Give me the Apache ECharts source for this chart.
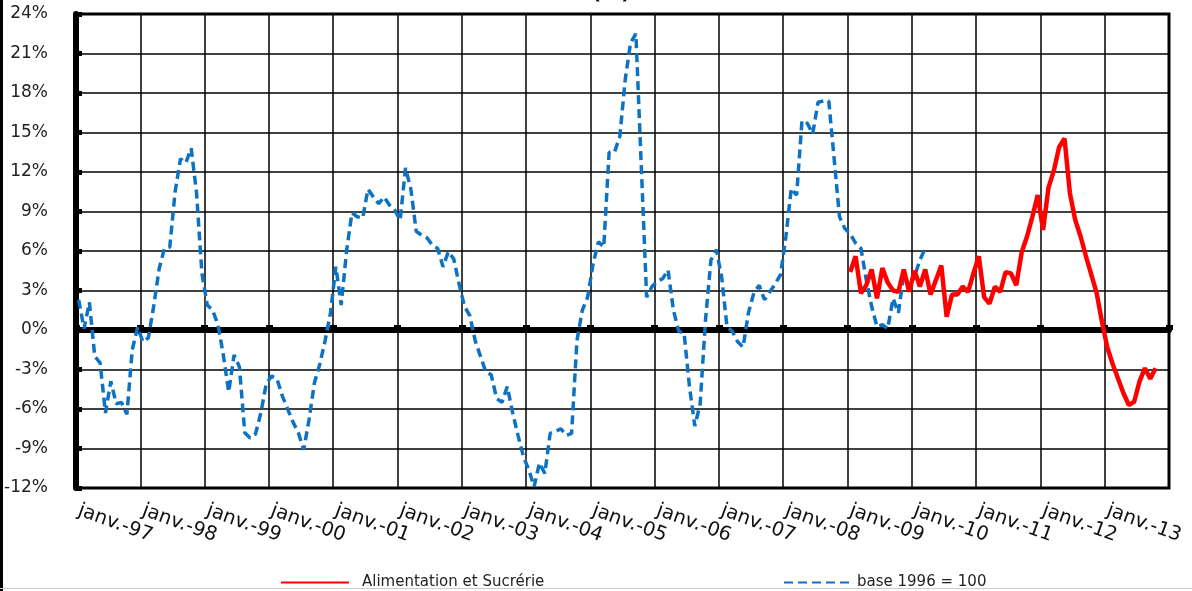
<!DOCTYPE html>
<html>
<head>
<meta charset="utf-8">
<script src="https://cdn.jsdelivr.net/npm/echarts@6/dist/echarts.min.js"></script>
<style>
html,body{margin:0;padding:0;background:#fff;}
#chart{width:1192px;height:591px;}
</style>
</head>
<body>
<div id="chart"></div>
<script>
// ---- data ----
const years = [1997,1998,1999,2000,2001,2002,2003,2004,2005,2006,2007,2008,2009,2010,2011,2012,2013];
const monthNames = ['janv.','févr.','mars','avr.','mai','juin','juil.','août','sept.','oct.','nov.','déc.'];
const yTicks = [-12,-9,-6,-3,0,3,6,9,12,15,18,21,24];

// "base 1996 = 100" : monthly from janv.-97
const baseStart = 0;
const baseValues = [
 2.3, 0.1, 2.1, -2.0, -2.5, -6.3, -3.9, -5.6, -5.5, -6.4, -1.5, 0.2,
 -0.9, -0.6, 1.8, 4.6, 6.2, 6.3, 10.5, 13.0, 12.7, 13.8, 10.4, 4.3,
 1.9, 1.5, 0.4, -1.9, -4.7, -1.9, -2.8, -7.8, -8.2, -7.9, -6.3, -4.1,
 -3.5, -3.7, -5.0, -6.0, -7.0, -7.8, -9.1, -6.8, -4.0, -2.6, -0.8, 1.3,
 4.8, 1.9, 6.0, 8.9, 8.6, 8.5, 10.7, 10.1, 9.6, 10.1, 9.5, 9.1,
 8.35, 12.3, 10.7, 7.5, 7.2, 7.0, 6.45, 6.2, 4.8, 5.95, 5.4, 3.5,
 1.8, 1.1, -0.8, -2.0, -3.2, -3.4, -5.2, -5.5, -4.3, -6.3, -8.0, -9.6,
 -10.6, -11.9, -10.1, -10.9, -7.85, -7.7, -7.5, -8.0, -7.85, -0.8, 1.5, 2.5,
 5.0, 6.7, 6.3, 13.5, 13.5, 14.7, 19.0, 21.8, 22.5, 12.5, 2.5, 3.3,
 3.7, 3.9, 4.55, 1.5, -0.1, -0.25, -4.3, -7.3, -5.6, 0.8, 5.3, 6.1,
 4.05, 0.25, -0.1, -0.9, -1.3, 1.3, 2.8, 3.4, 2.3, 2.9, 3.5, 4.2,
 7.1, 10.75, 10.25, 15.9, 15.7, 14.9, 17.3, 17.4, 17.4, 13.0, 8.6, 7.7,
 7.3, 6.6, 6.2, 3.8, 1.8, 0.25, 0.4, 0.1, 2.4, 1.3, 4.3, 3.3,
 4.05, 5.3, 6.2
];

// "Alimentation et Sucrérie" : monthly from janv.-09
const alimStart = 144;
const alimValues = [
 4.4, 5.6, 2.8, 3.4, 4.6, 2.4, 4.7, 3.6, 3.0, 2.9, 4.6, 2.9,
 4.5, 3.3, 4.6, 2.7, 3.8, 4.9, 1.0, 2.7, 2.7, 3.3, 2.9, 4.3,
 5.6, 2.5, 2.0, 3.3, 2.9, 4.4, 4.3, 3.4, 5.9, 7.1, 8.6, 10.25,
 7.6, 10.8, 12.1, 13.9, 14.55, 10.4, 8.35, 7.1, 5.6, 4.2, 2.8, 0.6,
 -1.35, -2.6, -3.7, -4.8, -5.7, -5.45, -3.9, -2.9, -3.7, -2.9
];

// ---- build ----
const categories = [];
years.forEach(y => monthNames.forEach(m => categories.push(m + '-' + String(y).slice(2))));
function place(start, vals) {
  const arr = new Array(categories.length).fill(null);
  vals.forEach((v, i) => { arr[start + i] = v; });
  return arr;
}
const FONT = 'DejaVu Sans';
const chart = echarts.init(document.getElementById('chart'), null, {renderer: 'canvas'});
chart.setOption({
  animation: false,
  backgroundColor: '#fff',
  grid: {left: 76, right: 23, top: 14, bottom: 103, show: true, borderColor: '#000', borderWidth: 3,
         containLabel: false, outerBoundsMode: 'none'},
  legend: [
    {data: ['Alimentation et Sucrérie'], left: 275, top: 570, itemWidth: 68, itemHeight: 14,
     itemStyle: {opacity: 0},
     textStyle: {fontFamily: FONT, fontSize: 15, color: '#222', padding: [0,0,0,8]}},
    {data: ['base 1996 = 100'], left: 778, top: 570, itemWidth: 68, itemHeight: 14,
     itemStyle: {opacity: 0},
     textStyle: {fontFamily: FONT, fontSize: 15, color: '#222', padding: [0,0,0,0]}}
  ],
  xAxis: [
    {type: 'category', data: categories, boundaryGap: true, position: 'bottom',
     axisLine: {onZero: false, lineStyle: {color: '#000', width: 2}},
     axisTick: {show: false},
     axisLabel: {interval: 11, rotate: -20, margin: 22, fontFamily: FONT, fontSize: 19.5, color: '#111',
                 formatter: v => v.startsWith('janv.') ? v : ''},
     splitLine: {show: true, interval: 11, lineStyle: {color: '#000', width: 1.5}}},
    {type: 'category', data: categories, boundaryGap: true, position: 'top',
     axisLine: {onZero: true, lineStyle: {color: '#000', width: 6}},
     axisTick: {show: true, interval: 11, length: 5, lineStyle: {color: '#000', width: 7}},
     axisLabel: {show: false}, splitLine: {show: false}}
  ],
  yAxis: {type: 'value', min: yTicks[0], max: yTicks[yTicks.length - 1], interval: 3,
    axisLine: {show: true, onZero: false, lineStyle: {color: '#000', width: 6}},
    axisTick: {show: true, inside: true, length: 6, lineStyle: {color: '#000', width: 5}},
    axisLabel: {formatter: '{value}%', fontFamily: FONT, fontSize: 17, color: '#222', margin: 28},
    splitLine: {show: true, lineStyle: {color: '#000', width: 1.5}}},
  series: [
    {name: 'Alimentation et Sucrérie', type: 'line', xAxisIndex: 0, data: place(alimStart, alimValues),
     symbol: 'none', connectNulls: false, z: 4,
     lineStyle: {color: '#ff0000', width: 4.5}, itemStyle: {color: '#ff0000'}},
    {name: 'base 1996 = 100', type: 'line', xAxisIndex: 0, data: place(baseStart, baseValues),
     symbol: 'none', connectNulls: false, z: 3,
     lineStyle: {color: '#0e72c4', width: 3.5, type: [9, 5]}, itemStyle: {color: '#0e72c4'}}
  ],
  graphic: [
    {type: 'text', left: 592, top: -16, style: {text: '(%)', font: 'bold 20px "DejaVu Sans"', fill: '#111'}},
    {type: 'rect', shape: {x: 0, y: 0, width: 3, height: 591}, style: {fill: '#000'}},
    {type: 'rect', shape: {x: 0, y: 588, width: 1192, height: 1}, style: {fill: '#ccc'}}
  ]
});
</script>
</body>
</html>
